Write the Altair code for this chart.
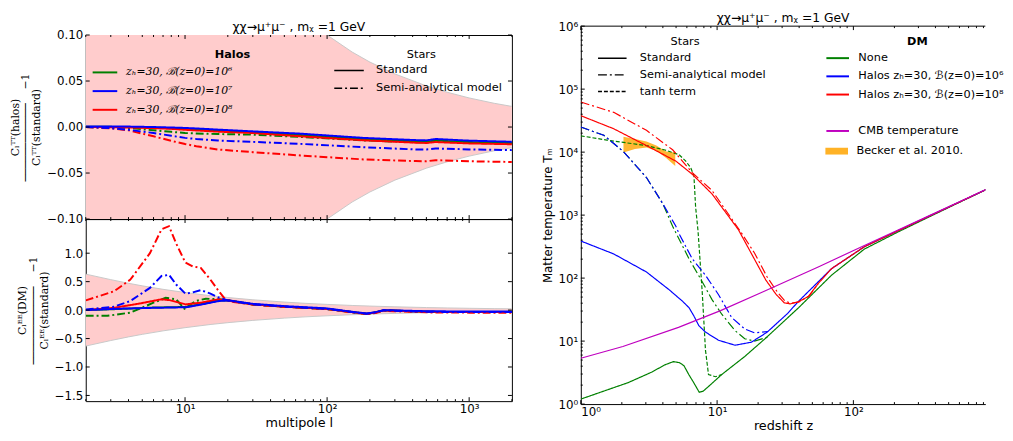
import altair as alt
import pandas as pd

FONT = "DejaVu Sans"
SERIF = "DejaVu Serif"

# ---------------- labels ----------------
H6 = "z\u2095=30, \u212c(z=0)=10\u2076"
H7 = "z\u2095=30, \u212c(z=0)=10\u2077"
H8 = "z\u2095=30, \u212c(z=0)=10\u2078"
STD = "Standard"
SAM = "Semi-analytical model"
TANH = "tanh term"
DM_NONE = "None"
DM_H6 = "Halos " + H6
DM_H8 = "Halos " + H8
DM_GAP = "\u00a0"
DM_CMB = "CMB temperature"
BECKER = "Becker et al. 2010."
TITLE = "\u03c7\u03c7\u2192\u03bc\u207a\u03bc\u207b , m\u1d6a =1 GeV"

PAD = "\u2007" * 4 + "\u2008"
BAR = "\u2500" * 12
TT_TITLE = ["C\u2097\u1d40\u1d40(halos)" + PAD, BAR + "\u2007\u2007\u22121", "C\u2097\u1d40\u1d40(standard)" + PAD]
EE_TITLE = ["C\u2097\u1d31\u1d31(DM)" + PAD, BAR + "\u2007\u2007\u22121", "C\u2097\u1d31\u1d31(standard)" + PAD]

# ---------------- TT panel ----------------
tt_l = [2, 3, 4, 6, 8, 10, 12, 17, 30, 65, 180, 420, 500, 580, 1000, 2000]
tt_g_std = [0.0003, 0.0002, 0.0, -0.0006, -0.0013, -0.002, -0.0026, -0.0039, -0.0056, -0.0087, -0.0131, -0.0156, -0.0159, -0.0147, -0.0163, -0.0174]
tt_g_sam = [0.0, -0.0004, -0.001, -0.0036, -0.0052, -0.0065, -0.007, -0.0076, -0.0083, -0.0108, -0.0145, -0.0166, -0.0168, -0.0158, -0.0172, -0.018]
tt_b_std = [0.0006, 0.0006, 0.0005, 0.0, -0.0005, -0.001, -0.0015, -0.0028, -0.0047, -0.0072, -0.0118, -0.0142, -0.0145, -0.013, -0.0148, -0.016]
tt_b_sam = [0.0, -0.0012, -0.003, -0.0065, -0.0095, -0.0118, -0.013, -0.0147, -0.0161, -0.0183, -0.0219, -0.0244, -0.0243, -0.0233, -0.0243, -0.0251]
tt_r_std = [0.0, -0.0002, -0.0005, -0.0012, -0.002, -0.003, -0.0037, -0.005, -0.0065, -0.0101, -0.0144, -0.017, -0.0173, -0.0163, -0.0178, -0.0187]
tt_r_sam = [0.0, -0.0015, -0.0036, -0.0101, -0.015, -0.0185, -0.0208, -0.0244, -0.0273, -0.0309, -0.0352, -0.037, -0.0372, -0.036, -0.0372, -0.038]

# cosmic-variance band (half width)
cv_l = [2, 3, 4, 5, 7, 10, 15, 20, 30, 50, 70, 100, 150, 200, 300, 500, 700, 1000, 1500, 2000]
cv_v = [0.632, 0.535, 0.471, 0.426, 0.365, 0.309, 0.254, 0.221, 0.181, 0.141, 0.119, 0.100, 0.0815, 0.0706, 0.0577, 0.0447, 0.0378, 0.0316, 0.0258, 0.0224]

# ---------------- EE panel ----------------
ee_r_sam_l = [2, 3.16, 4.12, 5.66, 6.83, 7.71, 8.66, 10.05, 11.3, 12.9, 15.1, 17.3, 19.2, 22, 30, 50, 100, 150, 190, 220, 250, 300, 500, 1000, 2000]
ee_r_sam = [0.17, 0.33, 0.535, 1.0, 1.42, 1.475, 1.17, 0.836, 0.77, 0.74, 0.535, 0.33, 0.19, 0.14, 0.10, 0.06, 0.02, -0.04, -0.07, -0.05, -0.01, -0.02, -0.04, -0.045, -0.045]
ee_b_sam_l = [2, 3.16, 4.12, 5.66, 6.83, 7.71, 8.66, 10.05, 11.3, 12.9, 15.1, 17.3, 20, 30, 50, 100, 150, 190, 220, 250, 300, 500, 1000, 2000]
ee_b_sam = [0.01, 0.06, 0.16, 0.39, 0.6, 0.62, 0.45, 0.29, 0.31, 0.35, 0.29, 0.22, 0.17, 0.10, 0.06, 0.02, -0.035, -0.065, -0.04, -0.005, -0.01, -0.03, -0.035, -0.035]
ee_r_std_l = [2, 3.16, 4.83, 6.83, 7.8, 10.1, 12.9, 17.3, 20, 30, 50, 100, 150, 190, 220, 250, 300, 500, 1000, 2000]
ee_r_std = [0.0, 0.04, 0.117, 0.19, 0.175, 0.1, 0.13, 0.19, 0.17, 0.10, 0.06, 0.02, -0.035, -0.065, -0.04, -0.005, -0.01, -0.03, -0.035, -0.035]
ee_g_sam_l = [2, 2.84, 4.12, 6.0, 7.3, 8.66, 9.9, 11.9, 14, 17.3, 20, 30, 50, 100, 150, 190, 220, 250, 300, 500, 1000, 2000]
ee_g_sam = [-0.10, -0.10, -0.045, 0.13, 0.215, 0.19, 0.025, 0.16, 0.2, 0.19, 0.17, 0.10, 0.06, 0.02, -0.035, -0.065, -0.04, -0.005, -0.01, -0.03, -0.035, -0.035]
ee_std_l = [2, 3.51, 6, 10.2, 13.2, 17.3, 20.3, 30, 50, 100, 150, 190, 220, 250, 300, 500, 1000, 2000]
ee_b_std = [0.0, 0.025, 0.04, 0.05, 0.1, 0.16, 0.17, 0.11, 0.07, 0.03, -0.03, -0.06, -0.035, 0.0, -0.005, -0.02, -0.025, -0.025]
ee_g_std = [0.0, 0.02, 0.045, 0.055, 0.11, 0.17, 0.17, 0.10, 0.06, 0.02, -0.035, -0.065, -0.04, -0.005, -0.01, -0.03, -0.035, -0.035]

# ---------------- matter temperature panel ----------------
cmb_z = [1, 2.035, 5.21, 10.6, 21.57, 55.2, 120.4, 208.8, 364.4, 633.3, 1102]
cmb_T = [5.35, 8.2, 16.5, 30.5, 60, 150, 330, 570, 990, 1720, 3000]

gn_z = [1, 1.515, 2.223, 3.296, 4.143, 4.781, 5.272, 5.7, 6.225, 6.729, 7.396, 7.892, 8.648, 10.82, 15.95, 22.79, 39.64, 69.05, 120.4, 208.8, 364.4, 633.3, 1102]
gn_T = [1.2, 1.64, 2.19, 3.2, 4.2, 4.72, 4.55, 4.1, 2.9, 2.2, 1.54, 1.6, 1.9, 2.95, 5.69, 11.2, 33.9, 111, 289, 530, 950, 1690, 2980]
gt_z = [1, 1.557, 3.032, 4.143, 5.272, 5.892, 6.407, 6.762, 6.955, 7.246, 7.774, 8.216, 8.648, 9.72, 10.82]
gt_T = [18150, 15500, 12700, 10800, 9080, 7180, 5650, 4200, 1355, 560, 61, 7.2, 2.95, 2.72, 2.95]
gd_z = [1, 1.474, 2.056, 3.032, 3.994, 4.717, 6.225, 7.774, 9.178, 10.82, 13.54, 15.95, 18.81, 23.57]
gd_T = [25000, 18500, 10200, 3950, 1520, 664, 202, 87.7, 45.6, 26.7, 14.7, 10.9, 10.0, 11.6]
bs_z = [1, 1.744, 3.032, 4.462, 5.571, 6.225, 6.762, 7.342, 8.216, 10.25, 13.54, 17.82, 23.24, 32.81, 39.64, 69.05, 120.4, 208.8, 364.4, 633.3, 1102]
bs_T = [388, 242, 125, 65, 43, 33.9, 25, 17.6, 13.9, 10.3, 8.6, 9.6, 13.8, 27.3, 43, 141, 315, 555, 975, 1705, 2990]
bd_z = [1, 1.474, 2.056, 3.032, 3.994, 4.984, 5.272, 6.579, 8.216, 10.25, 12.78, 15.95, 18.81, 23.57]
bd_T = [25000, 18500, 10200, 3950, 1520, 664, 500, 202, 111, 54.5, 23.7, 15.6, 13.5, 14.2]
rs_z = [1, 1.744, 3.032, 4.994, 6.579, 9.178, 14.31, 18.26, 22.79, 27.12, 31.13, 34.49, 39.42, 46.73, 55.21, 69.05, 120.4, 208.8, 364.4, 633.3, 1102]
rs_T = [37900, 23500, 12700, 7180, 4450, 2170, 590, 224, 93, 55, 40.5, 39, 42, 51, 82, 141, 315, 555, 975, 1705, 2990]
rd_z = [1, 1.744, 3.032, 4.717, 6.579, 9.178, 15.08, 18.81, 23.24, 27.68, 31.58, 34.93, 39.98, 47.3, 55.21]
rd_T = [62400, 42800, 22200, 10900, 4720, 2460, 523, 250, 105, 60, 43, 40, 42, 52, 82]

bk_z = [2.056, 2.496, 3.032, 3.581, 4.228, 4.931]
bk_lo = [9900, 11250, 11800, 10500, 8070, 6000]
bk_hi = [17500, 16100, 14700, 12700, 10200, 9900]

# ---------------- ticks ----------------
l_major = [10, 100, 1000]
l_minor = [2, 3, 4, 5, 6, 7, 8, 9, 20, 30, 40, 50, 60, 70, 80, 90, 200, 300, 400, 500, 600, 700, 800, 900, 2000]
l_labels = ["10\u00b9", "10\u00b2", "10\u00b3"]
tt_yticks = [-0.1, -0.05, 0.0, 0.05, 0.1]
ee_yticks = [-1.5, -1.0, -0.5, 0.0, 0.5, 1.0]
z_major = [1, 10, 100]
z_minor = [2, 3, 4, 5, 6, 7, 8, 9, 20, 30, 40, 50, 60, 70, 80, 90, 200, 300, 400, 500, 600, 700, 800, 900]
z_labels = ["10\u2070", "10\u00b9", "10\u00b2"]
T_major = [1, 10, 100, 1000, 10000, 100000, 1000000]
T_minor = [m * 10 ** k for k in range(6) for m in range(2, 10)]
T_labels = ["10\u2070", "10\u00b9", "10\u00b2", "10\u00b3", "10\u2074", "10\u2075", "10\u2076"]

# ---------------- geometry ----------------
LW = 433
TTH = 187
EEH = 185
RW = 411
RH = 384
MAJ = 4
MIN = 2
TOPGAP = 9


def label_expr(values, labels):
    expr = "''"
    for v, s in zip(reversed(values), reversed(labels)):
        expr = f"abs(datum.value - {v}) < {v}*1e-6 ? '{s}' : {expr}"
    return expr


def long_df(xname, yname, series):
    rows = []
    for xs, ys, a, b in series:
        for x, y in zip(xs, ys):
            rows.append({xname: x, yname: y, "grp": a, "stars": b})
    return pd.DataFrame(rows)


def x_ticks(vals, scale, axis, h, length, top=True):
    d = pd.DataFrame({"t": vals})
    b = alt.Chart(d).mark_rule(color="black", strokeWidth=1)
    out = [b.encode(x=alt.X("t:Q", scale=scale, axis=axis), y=alt.value(h), y2=alt.value(h - length))]
    if top:
        out.append(b.encode(x=alt.X("t:Q", scale=scale, axis=axis), y=alt.value(0), y2=alt.value(length)))
    return out


def y_ticks(vals, scale, axis, w, length, right=True):
    d = pd.DataFrame({"t": vals})
    b = alt.Chart(d).mark_rule(color="black", strokeWidth=1)
    out = [b.encode(y=alt.Y("t:Q", scale=scale, axis=axis), x=alt.value(0), x2=alt.value(length))]
    if right:
        out.append(b.encode(y=alt.Y("t:Q", scale=scale, axis=axis), x=alt.value(w), x2=alt.value(w - length)))
    return out


def line_legend(title, bold, x, y, size, offset, rowpad, tpad, black=False, serif=False,
                anchor="middle", talign="center"):
    kw = dict(
        title=title, orient="none", legendX=x, legendY=y,
        titleFontWeight="bold" if bold else "normal", titleFontSize=11.5, titleAnchor=anchor,
        titleAlign=talign, titleColor="black", titlePadding=tpad,
        labelFontSize=11.5, labelColor="black", labelLimit=300,
        symbolType="M-2,0H2", symbolSize=size, symbolStrokeWidth=2 if not black else 1.5,
        labelOffset=offset, rowPadding=rowpad, padding=0,
    )
    if black:
        kw["symbolStrokeColor"] = "black"
    if serif:
        kw["labelFont"] = SERIF
        kw["labelFontStyle"] = "italic"
        kw["labelFontSize"] = 11
    return alt.Legend(**kw)


def frac_axis(values, fmt, title):
    return alt.Axis(values=values, format=fmt, ticks=False, tickSize=0, domain=False, grid=False,
                    labelPadding=3, labelFontSize=12, title=title, titleFont=SERIF, titleFontSize=11,
                    titleLineHeight=11, titlePadding=5, titleFontWeight="normal")


def panel_title():
    return alt.TitleParams(TITLE, fontSize=12.5, fontWeight="normal", offset=-4, anchor="middle", color="black")


# ================= TT / EE =================
xl = alt.Scale(type="log", domain=[2, 2000], nice=False)
y_tt = alt.Scale(domain=[-0.1, 0.1], nice=False, zero=False)
y_ee = alt.Scale(domain=[-1.6, 1.6], nice=False, zero=False)
halo_scale = alt.Scale(domain=[H6, H7, H8], range=["#008000", "#0000ff", "#ff0000"])
star_scale_l = alt.Scale(domain=[STD, SAM], range=[[1, 0], [8, 3, 2, 3]])

band_df = pd.DataFrame({"l": cv_l, "hi": cv_v, "lo": [-v for v in cv_v]})
edge_df = pd.DataFrame({"l": cv_l + cv_l, "v": cv_v + [-v for v in cv_v], "side": ["u"] * len(cv_l) + ["d"] * len(cv_l)})

l_axis = alt.Axis(values=l_major, labelExpr=label_expr(l_major, l_labels), ticks=False, tickSize=0, domain=False,
                  grid=False, labelPadding=3, labelFontSize=12, title="multipole l", titleFontSize=13,
                  titlePadding=2, titleFontWeight="normal")
tt_yaxis = frac_axis(tt_yticks, ".2f", TT_TITLE)
ee_yaxis = frac_axis(ee_yticks, ".1f", EE_TITLE)


def band_layers(yscale, xaxis, yaxis):
    area = alt.Chart(band_df).mark_area(color="#ffcccc", clip=True).encode(
        x=alt.X("l:Q", scale=xl, axis=xaxis), y=alt.Y("lo:Q", scale=yscale, axis=yaxis), y2="hi:Q")
    edge = alt.Chart(edge_df).mark_line(color="#c8c8c8", strokeWidth=1, clip=True).encode(
        x=alt.X("l:Q", scale=xl, axis=xaxis), y=alt.Y("v:Q", scale=yscale, axis=yaxis), detail="side:N")
    return [area, edge]


tt_df = long_df("l", "v", [
    (tt_l, tt_g_std, H6, STD), (tt_l, tt_g_sam, H6, SAM),
    (tt_l, tt_r_std, H8, STD), (tt_l, tt_r_sam, H8, SAM),
    (tt_l, tt_b_std, H7, STD), (tt_l, tt_b_sam, H7, SAM),
])

tt_lines = alt.Chart(tt_df).mark_line(strokeWidth=2, clip=True).encode(
    x=alt.X("l:Q", scale=xl, axis=None),
    y=alt.Y("v:Q", scale=y_tt, axis=tt_yaxis),
    color=alt.Color("grp:N", scale=halo_scale,
                    legend=line_legend("Halos", True, 12, 14, 156.25, 14, 6, 5, serif=True,
                                       anchor="end", talign="center")),
    strokeDash=alt.StrokeDash("stars:N", scale=star_scale_l,
                              legend=line_legend("Stars", False, 259, 14, 225, 19, 4, 2, black=True)),
)

tt = alt.layer(
    *band_layers(y_tt, None, tt_yaxis), tt_lines,
    *x_ticks(l_major, xl, None, TTH, MAJ), *x_ticks(l_minor, xl, None, TTH, MIN),
    *y_ticks(tt_yticks, y_tt, tt_yaxis, LW, MAJ),
).properties(width=LW, height=TTH, title=panel_title())

ee_df = long_df("l", "v", [
    (ee_std_l, ee_g_std, H6, STD), (ee_g_sam_l, ee_g_sam, H6, SAM),
    (ee_r_std_l, ee_r_std, H8, STD), (ee_r_sam_l, ee_r_sam, H8, SAM),
    (ee_b_sam_l, ee_b_sam, H7, SAM), (ee_std_l, ee_b_std, H7, STD),
])

ee_lines = alt.Chart(ee_df).mark_line(strokeWidth=2, clip=True).encode(
    x=alt.X("l:Q", scale=xl, axis=l_axis),
    y=alt.Y("v:Q", scale=y_ee, axis=ee_yaxis),
    color=alt.Color("grp:N", scale=halo_scale, legend=None),
    strokeDash=alt.StrokeDash("stars:N", scale=star_scale_l, legend=None),
)

ee = alt.layer(
    *band_layers(y_ee, l_axis, ee_yaxis), ee_lines,
    *x_ticks(l_major, xl, l_axis, EEH, MAJ), *x_ticks(l_minor, xl, l_axis, EEH, MIN),
    *y_ticks(ee_yticks, y_ee, ee_yaxis, LW, MAJ),
).properties(width=LW, height=EEH)

spacer = alt.Chart(pd.DataFrame({"a": [0]})).mark_point(opacity=0, size=1).encode(
    x=alt.value(LW / 2), y=alt.value(TOPGAP / 2)
).properties(width=LW, height=TOPGAP, view=alt.ViewBackground(stroke="transparent"))

left = alt.vconcat(spacer, tt, ee, spacing=0, bounds="flush").resolve_scale(
    x="independent", y="independent", color="independent", strokeDash="independent"
).resolve_legend(color="independent", strokeDash="independent")

# ================= temperature chart =================
xz = alt.Scale(type="log", domain=[1, 929], nice=False)
yT = alt.Scale(type="log", domain=[1, 1e6], nice=False)
dm_scale = alt.Scale(domain=[DM_NONE, DM_H6, DM_H8, DM_GAP, DM_CMB],
                     range=["#008000", "#0000ff", "#ff0000", "#ffffff", "#bf00bf"])
star_scale_r = alt.Scale(domain=[STD, SAM, TANH], range=[[1, 0], [9, 3, 2, 3], [4, 2]])

r_df = long_df("z", "T", [
    (gn_z, gn_T, DM_NONE, STD), (gd_z, gd_T, DM_NONE, SAM), (gt_z, gt_T, DM_NONE, TANH),
    (bs_z, bs_T, DM_H6, STD), (bd_z, bd_T, DM_H6, SAM),
    (rs_z, rs_T, DM_H8, STD), (rd_z, rd_T, DM_H8, SAM),
])
cmb_df = pd.DataFrame({"z": cmb_z, "T": cmb_T, "grp": [DM_CMB] * len(cmb_z)})
bk_df = pd.DataFrame({"z": bk_z, "lo": bk_lo, "hi": bk_hi, "name": [BECKER] * len(bk_z)})

z_axis = alt.Axis(values=z_major, labelExpr=label_expr(z_major, z_labels), ticks=False, tickSize=0,
                  domain=True, domainColor="black", grid=False, labelPadding=3, labelFontSize=12,
                  title="redshift z", titleFontSize=13, titlePadding=2, titleFontWeight="normal")
T_axis = alt.Axis(values=T_major, labelExpr=label_expr(T_major, T_labels), ticks=False, tickSize=0,
                  domain=True, domainColor="black", grid=False, labelPadding=3, labelFontSize=12,
                  title="Matter temperature T\u2098", titleFontSize=12, titlePadding=4, titleFontWeight="normal")

becker = alt.Chart(bk_df).mark_area(opacity=0.8, clip=True).encode(
    x=alt.X("z:Q", scale=xz, axis=z_axis),
    y=alt.Y("lo:Q", scale=yT, axis=T_axis), y2="hi:Q",
    fill=alt.Fill("name:N", scale=alt.Scale(domain=[BECKER], range=["#ffa500"]),
                  legend=alt.Legend(title=None, orient="none", legendX=254, legendY=121,
                                    symbolType="M-2,-0.6H2V0.6H-2Z", symbolSize=132, symbolStrokeWidth=0,
                                    symbolOpacity=0.85, labelOffset=14, labelFontSize=11.5,
                                    labelColor="black", padding=0)),
)

r_lines = alt.Chart(r_df).mark_line(strokeWidth=1.2, clip=True).encode(
    x=alt.X("z:Q", scale=xz, axis=z_axis),
    y=alt.Y("T:Q", scale=yT, axis=T_axis),
    color=alt.Color("grp:N", scale=dm_scale,
                    legend=line_legend("DM", True, 254, 10, 132, 14, 5.5, 4)),
    strokeDash=alt.StrokeDash("stars:N", scale=star_scale_r,
                              legend=line_legend("Stars", False, 24, 10, 210, 20, 3, 3, black=True)),
)

cmb = alt.Chart(cmb_df).mark_line(strokeWidth=1.2, clip=True).encode(
    x=alt.X("z:Q", scale=xz, axis=z_axis),
    y=alt.Y("T:Q", scale=yT, axis=T_axis),
    color=alt.Color("grp:N", scale=dm_scale),
)

top_frame = alt.Chart(pd.DataFrame({"a": [0]})).mark_rule(color="black", strokeWidth=1).encode(
    x=alt.value(0), x2=alt.value(RW), y=alt.value(0))

right = alt.layer(
    becker, r_lines, cmb,
    *x_ticks(z_major, xz, z_axis, RH, MAJ), *x_ticks(z_minor, xz, z_axis, RH, MIN),
    *y_ticks(T_major, yT, T_axis, RW, MAJ, right=False), *y_ticks(T_minor, yT, T_axis, RW, MIN, right=False),
    top_frame,
).properties(width=RW, height=RH, view=alt.ViewBackground(stroke="transparent"), title=panel_title())

chart = alt.hconcat(left, right, spacing=28).resolve_scale(
    x="independent", y="independent", color="independent", strokeDash="independent", fill="independent"
).resolve_legend(color="independent", strokeDash="independent", fill="independent").properties(
    padding={"left": 0, "top": 0, "right": 0, "bottom": 0}
).configure(font=FONT).configure_view(stroke="black", strokeWidth=1).configure_axis(
    labelColor="black", titleColor="black", labelFont=FONT, titleFont=FONT
).configure_legend(labelFont=FONT, titleFont=FONT)

chart.save("out.html", embed_options={"renderer": "svg", "actions": False})
